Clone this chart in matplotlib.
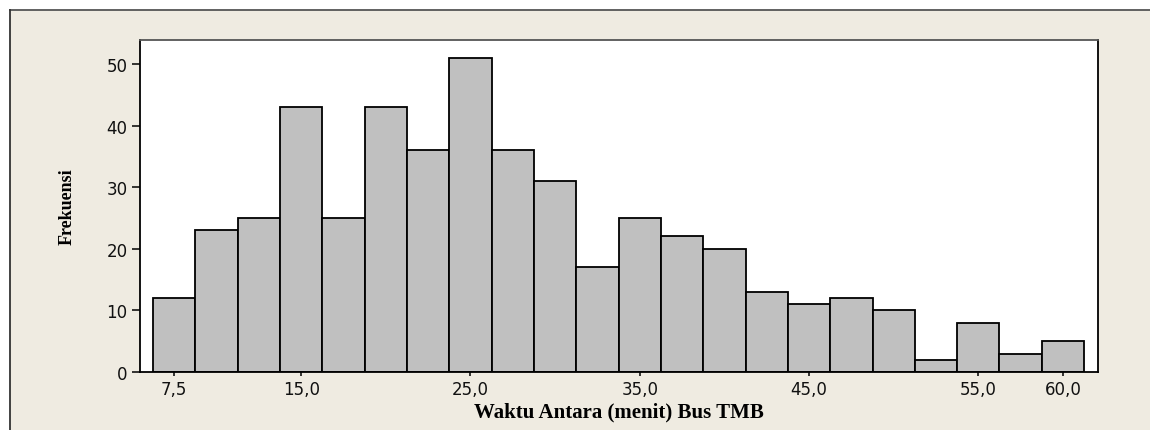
import matplotlib
matplotlib.use("Agg")
import matplotlib.pyplot as plt
from matplotlib.patches import Rectangle
from matplotlib.lines import Line2D

# Data
bin_centers = [7.5, 10.0, 12.5, 15.0, 17.5, 20.0, 22.5, 25.0, 27.5, 30.0, 32.5,
               35.0, 37.5, 40.0, 42.5, 45.0, 47.5, 50.0, 52.5, 55.0, 57.5, 60.0]
frequencies = [12, 23, 25, 43, 25, 43, 36, 51, 36, 31, 17,
               25, 22, 20, 13, 11, 12, 10, 2, 8, 3, 5]
bin_width = 2.5
x_tick_values = [7.5, 15.0, 25.0, 35.0, 45.0, 55.0, 60.0]
x_tick_labels = ["7,5", "15,0", "25,0", "35,0", "45,0", "55,0", "60,0"]
y_tick_values = [0, 10, 20, 30, 40, 50]
x_label = "Waktu Antara (menit) Bus TMB"
y_label = "Frekuensi"

W, H = 1150, 431
fig = plt.figure(figsize=(W / 100, H / 100), dpi=100, facecolor="white")

# Beige background panel with border (top and left visible)
bg_color = "#EFEBE1"
fig.patches.append(Rectangle((10 / W, 0), 1.0, 1 - 11 / H, transform=fig.transFigure,
                             facecolor=bg_color, edgecolor="none", zorder=-10))
fig.lines.append(Line2D([10 / W, 1.0], [1 - 11 / H, 1 - 11 / H], transform=fig.transFigure,
                        color="#555555", linewidth=1.3, zorder=-9))
fig.lines.append(Line2D([10 / W, 10 / W], [0, 1 - 11 / H], transform=fig.transFigure,
                        color="#333333", linewidth=1.3, zorder=-9))

left, right, top, bottom = 140, 1098, 41, 373
ax = fig.add_axes([left / W, (H - bottom) / H, (right - left) / W, (bottom - top) / H])
ax.set_zorder(5)
ax.set_facecolor("white")

ax.bar(bin_centers, frequencies, width=bin_width, align="center",
       color="#C0C0C0", edgecolor="black", linewidth=1.3, zorder=2)

ax.set_xlim(5.48, 62.07)
ax.set_ylim(0, 53.9)

ax.set_xticks(x_tick_values)
ax.set_xticklabels(x_tick_labels)
ax.set_yticks(y_tick_values)
ax.tick_params(axis="y", direction="out", length=6, width=1.1, labelsize=12, pad=3, colors="black")
ax.tick_params(axis="x", direction="out", length=3, width=1.1, labelsize=12, pad=3, colors="black")
for lab in ax.get_xticklabels() + ax.get_yticklabels():
    lab.set_family("DejaVu Sans")
    lab.set_color("#111111")

for name, sp in ax.spines.items():
    sp.set_linewidth(1.3)
    sp.set_color("black")
ax.spines["top"].set_color("#555555")

ax.set_xlabel(x_label, family="Liberation Serif", fontweight="bold", fontsize=15, labelpad=2)
ax.set_ylabel(y_label, family="Liberation Serif", fontweight="bold", fontsize=13, labelpad=22)

fig.savefig("out.png", dpi=100, facecolor=fig.get_facecolor())
